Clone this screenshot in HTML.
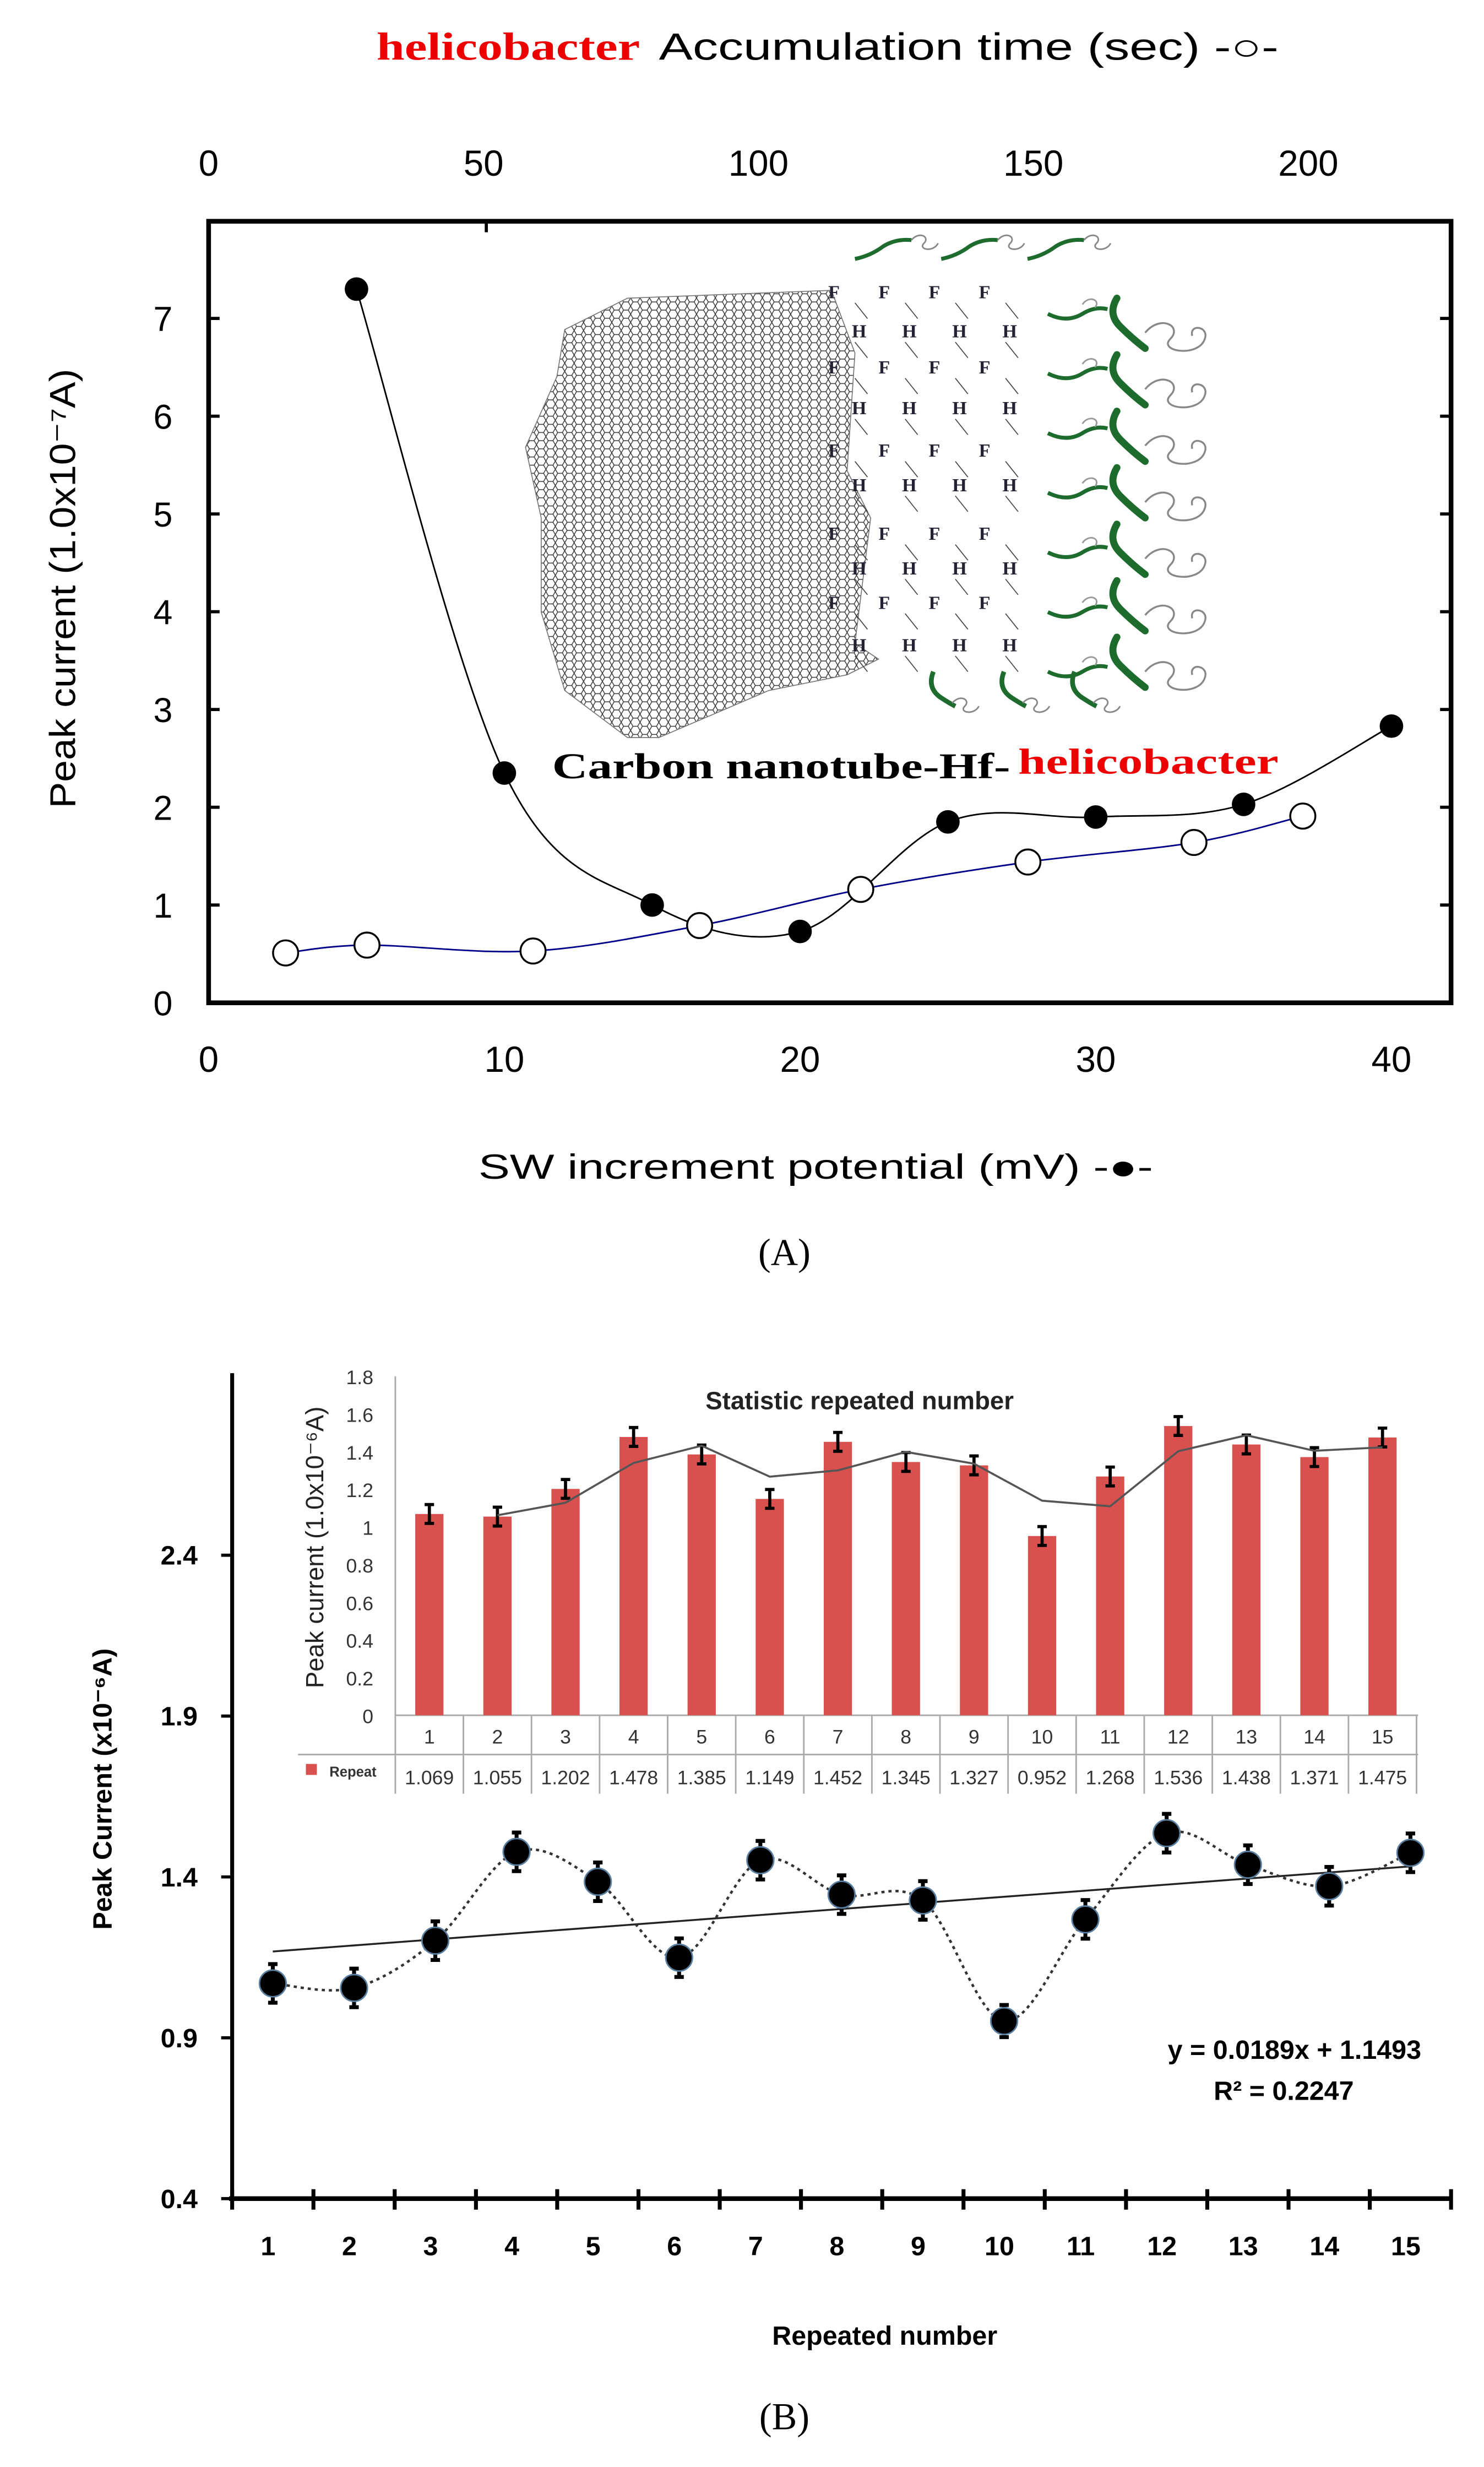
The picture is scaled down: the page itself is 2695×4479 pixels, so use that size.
<!DOCTYPE html>
<html><head><meta charset="utf-8">
<style>
html,body{margin:0;padding:0;background:#fff}
svg{display:block;font-family:"Liberation Sans",sans-serif}
</style></head>
<body>
<svg id="fig" width="2695" height="4479" viewBox="0 0 946 1572" preserveAspectRatio="none" xmlns="http://www.w3.org/2000/svg">
<defs>
<pattern id="hex" width="6" height="5.2" patternUnits="userSpaceOnUse">
<path d="M0,2.6 L1.5,0 L4.5,0 L6,2.6 L4.5,5.2 L1.5,5.2 Z" fill="none" stroke="#333" stroke-width="0.5"/>
</pattern>
<clipPath id="tubeclip"><polygon points="400,190 530,185 545,225 540,300 555,330 545,410 560,420 540,430 490,440 420,470 400,470 360,440 345,390 345,330 335,285 355,240 360,210"/></clipPath>
</defs>
<g id="panelA"></g>
<g id="panelB"></g>
</svg>
<script>
// ---------- Panel A data ----------
const swPotential = [5,10,15,20,25,30,35,40];
const swCurrent = [7.3,2.35,1.0,0.73,1.85,1.9,2.03,2.83];
const accTime = [14,28.8,59,89.3,118.6,149,179.2,199];
const accCurrent = [0.51,0.59,0.53,0.79,1.16,1.44,1.64,1.91];
const yTicksA = [0,1,2,3,4,5,6,7];
const xTicksBottom = [0,10,20,30,40];
const xTicksTop = [0,50,100,150,200];
// ---------- Panel B data ----------
const repeatNums = [1,2,3,4,5,6,7,8,9,10,11,12,13,14,15];
const repeatValues = [1.069,1.055,1.202,1.478,1.385,1.149,1.452,1.345,1.327,0.952,1.268,1.536,1.438,1.371,1.475];
const repeatErr = [0.06,0.06,0.06,0.06,0.06,0.06,0.06,0.06,0.06,0.05,0.06,0.06,0.06,0.06,0.06];
const yTicksB = [0.4,0.9,1.4,1.9,2.4];
const yTicksInset = [0,0.2,0.4,0.6,0.8,1,1.2,1.4,1.6,1.8];
const trendSlope = 0.0189, trendIntercept = 1.1493;

const NS="http://www.w3.org/2000/svg";
const SERIF='font-family:"Liberation Serif",serif';
function mk(parent,tag,attrs,text){const e=document.createElementNS(NS,tag);for(const k in attrs)e.setAttribute(k,attrs[k]);if(text!==undefined)e.textContent=text;parent.appendChild(e);return e;}
function spline(pts){let d="M"+pts[0][0]+","+pts[0][1];for(let i=0;i<pts.length-1;i++){const p0=pts[Math.max(0,i-1)],p1=pts[i],p2=pts[i+1],p3=pts[Math.min(pts.length-1,i+2)];const c1x=p1[0]+(p2[0]-p0[0])/6,c1y=p1[1]+(p2[1]-p0[1])/6,c2x=p2[0]-(p3[0]-p1[0])/6,c2y=p2[1]-(p3[1]-p1[1])/6;d+=` C${c1x},${c1y} ${c2x},${c2y} ${p2[0]},${p2[1]}`;}return d;}

// ===== Panel A =====
const A=document.getElementById('panelA');
const xb=v=>133+v*18.85, xt=s=>133+s*3.505, ya=v=>639-v*62.3;
let t;
t=mk(A,'text',{x:240,y:38,'font-size':25,'font-weight':'bold',fill:'#e00',style:SERIF,textLength:168,lengthAdjust:'spacingAndGlyphs'},'helicobacter');

t=mk(A,'text',{x:420,y:38,'font-size':24,fill:'#000',textLength:395,lengthAdjust:'spacingAndGlyphs'},'Accumulation time (sec) -○-');

// illustration
const ill=mk(A,'g',{});

mk(ill,'rect',{x:330,y:180,width:240,height:300,fill:'url(#hex)','clip-path':'url(#tubeclip)'});
mk(ill,'polygon',{points:"400,190 530,185 545,225 540,300 555,330 545,410 560,420 540,430 490,440 420,470 400,470 360,440 345,390 345,330 335,285 355,240 360,210",fill:'none',stroke:'#777','stroke-width':0.6});
const rowsFH=[[190,'F'],[215,'H'],[238,'F'],[264,'H'],[291,'F'],[313,'H'],[344,'F'],[366,'H'],[388,'F'],[415,'H']];
rowsFH.forEach((r,ri)=>{for(let k=0;k<4;k++){mk(ill,'text',{x:528+ri%2*15+k*32,y:r[0],'font-size':12,'font-weight':'bold',style:SERIF,fill:'#223'},r[1]);mk(ill,'line',{x1:545+k*32,y1:r[0]+3,x2:553+k*32,y2:r[0]+13,stroke:'#444','stroke-width':0.6});}});
[545,600,655].forEach(x=>{mk(ill,'path',{d:`M${x},165 q10,-2 18,-8 q8,-5 18,-4`,fill:'none',stroke:'#1e6b2e','stroke-width':2.5});mk(ill,'path',{d:`M${x+36},153 c5,-6 12,-2 8,2 c-4,4 6,6 9,0`,fill:'none',stroke:'#888','stroke-width':1});});
for(let r=0;r<7;r++){const yy=190+r*36;mk(ill,'path',{d:`M712,${yy} q-6,10 2,18 q8,8 16,14`,fill:'none',stroke:'#1e6b2e','stroke-width':4.5,'stroke-linecap':'round'});mk(ill,'path',{d:`M730,${yy+22} c10,-12 24,-4 16,4 c-8,8 18,12 22,0 c3,-8 -10,-10 -8,-2`,fill:'none',stroke:'#888','stroke-width':1.2});}
for(let r=0;r<7;r++){const yy=200+r*38;mk(ill,'path',{d:`M668,${yy} q12,6 22,0 q8,-5 16,-3`,fill:'none',stroke:'#1e6b2e','stroke-width':2.5});mk(ill,'path',{d:`M690,${yy-6} c4,-6 12,-3 8,2`,fill:'none',stroke:'#999','stroke-width':1});}
[595,640,685].forEach(x=>{mk(ill,'path',{d:`M${x},428 q-4,10 4,16 q6,4 10,6`,fill:'none',stroke:'#1e6b2e','stroke-width':3});mk(ill,'path',{d:`M${x+12},448 c5,-6 12,-2 8,2 c-4,4 6,6 9,0`,fill:'none',stroke:'#888','stroke-width':1});});
t=mk(A,'text',{x:352,y:496,'font-size':23,'font-weight':'bold',style:SERIF,fill:'#000',textLength:292,lengthAdjust:'spacingAndGlyphs'},'Carbon nanotube-Hf-');

t=mk(A,'text',{x:649,y:493,'font-size':23,'font-weight':'bold',style:SERIF,fill:'#e00',textLength:166,lengthAdjust:'spacingAndGlyphs'},'helicobacter');

// frame
const fr=mk(A,'rect',{x:133,y:141,width:792,height:498,fill:'none',stroke:'#000','stroke-width':3});

yTicksA.forEach(v=>{mk(A,'line',{x1:133,y1:ya(v),x2:140,y2:ya(v),stroke:'#000','stroke-width':2});mk(A,'line',{x1:918,y1:ya(v),x2:925,y2:ya(v),stroke:'#000','stroke-width':2});
 const l=mk(A,'text',{x:110,y:ya(v)+8,'font-size':22,'text-anchor':'end'},String(v));});
mk(A,'line',{x1:310,y1:141,x2:310,y2:148,stroke:'#000','stroke-width':2});
xTicksBottom.forEach(v=>{const l=mk(A,'text',{x:xb(v),y:683,'font-size':23,'text-anchor':'middle'},String(v));});
xTicksTop.forEach(v=>{const l=mk(A,'text',{x:xt(v),y:112,'font-size':23,'text-anchor':'middle'},String(v));});
t=mk(A,'text',{x:0,y:0,'font-size':23,'text-anchor':'middle',transform:'translate(48,375) rotate(-90)',textLength:280,lengthAdjust:'spacingAndGlyphs'},'Peak current (1.0x10⁻⁷A)');

t=mk(A,'text',{x:520,y:751,'font-size':22,'text-anchor':'middle',textLength:430,lengthAdjust:'spacingAndGlyphs'},'SW increment potential (mV) -●-');

t=mk(A,'text',{x:500,y:806,'font-size':24,'text-anchor':'middle',style:SERIF},'(A)');

const ptsOpen=accTime.map((s,i)=>[xt(s),ya(accCurrent[i])]);
let ln=mk(A,'path',{d:spline(ptsOpen),fill:'none',stroke:'#00008b','stroke-width':1});

const ptsFill=swPotential.map((v,i)=>[xb(v),ya(swCurrent[i])]);
ln=mk(A,'path',{d:spline(ptsFill),fill:'none',stroke:'#000','stroke-width':1});

ptsOpen.forEach(p=>{const c=mk(A,'circle',{cx:p[0],cy:p[1],r:8,fill:'#fff',stroke:'#000','stroke-width':1.2});});
ptsFill.forEach(p=>{const c=mk(A,'circle',{cx:p[0],cy:p[1],r:7.5,fill:'#000'});});

// ===== Panel B =====
const B=document.getElementById('panelB');
const xB=i=>148+51.8*(i-0.5), yB=v=>1401-(v-0.4)*205;
mk(B,'line',{x1:148,y1:875,x2:148,y2:1403,stroke:'#000','stroke-width':2.5});
mk(B,'line',{x1:146,y1:1401,x2:925,y2:1401,stroke:'#000','stroke-width':3});
yTicksB.forEach(v=>{mk(B,'line',{x1:141,y1:yB(v),x2:148,y2:yB(v),stroke:'#000','stroke-width':2});
 const l=mk(B,'text',{x:126,y:yB(v)+6,'font-size':17,'font-weight':'bold','text-anchor':'end'},v.toFixed(1));});
for(let k=0;k<=15;k++){mk(B,'line',{x1:148+51.8*k,y1:1395,x2:148+51.8*k,y2:1408,stroke:'#000','stroke-width':2.5});}
repeatNums.forEach(n=>{const l=mk(B,'text',{x:xB(n)-3,y:1437,'font-size':17,'font-weight':'bold','text-anchor':'middle'},String(n));});
t=mk(B,'text',{x:0,y:0,'font-size':17,'font-weight':'bold','text-anchor':'middle',transform:'translate(71,1140) rotate(-90)'},'Peak Current (x10⁻⁶A)');

t=mk(B,'text',{x:564,y:1494,'font-size':17,'font-weight':'bold','text-anchor':'middle'},'Repeated number');

t=mk(B,'text',{x:500,y:1548,'font-size':24,'text-anchor':'middle',style:SERIF},'(B)');

ln=mk(B,'line',{x1:xB(1),y1:yB(trendSlope*1+trendIntercept),x2:xB(15),y2:yB(trendSlope*15+trendIntercept),stroke:'#222','stroke-width':1.2});

const ptsB=repeatNums.map((n,i)=>[xB(n),yB(repeatValues[i])]);
ln=mk(B,'path',{d:spline(ptsB),fill:'none',stroke:'#333','stroke-width':1.6,'stroke-dasharray':'2,2.5'});

ptsB.forEach((p,i)=>{const e=repeatErr[i]*205;
 const eb=mk(B,'path',{d:`M${p[0]},${p[1]-e}V${p[1]+e}M${p[0]-3},${p[1]-e}H${p[0]+3}M${p[0]-3},${p[1]+e}H${p[0]+3}`,stroke:'#000','stroke-width':2.5});
 const c=mk(B,'circle',{cx:p[0],cy:p[1],r:8.5,fill:'#000',stroke:'#5a7fa0','stroke-width':1});});
t=mk(B,'text',{x:906,y:1312,'font-size':17,'font-weight':'bold','text-anchor':'end'},'y = 0.0189x + 1.1493');

t=mk(B,'text',{x:863,y:1338,'font-size':17,'font-weight':'bold','text-anchor':'end'},'R² = 0.2247');

const I=mk(B,'g',{});

const xi=i=>252+43.4*(i-0.5), yi=v=>1093-v*120;
mk(I,'line',{x1:252,y1:877,x2:252,y2:1143,stroke:'#aaa','stroke-width':1});
mk(I,'line',{x1:252,y1:1093,x2:904,y2:1093,stroke:'#aaa','stroke-width':1});
mk(I,'line',{x1:190,y1:1118,x2:904,y2:1118,stroke:'#aaa','stroke-width':1});
for(let k=1;k<=15;k++)mk(I,'line',{x1:252+43.4*k,y1:1093,x2:252+43.4*k,y2:1143,stroke:'#aaa','stroke-width':1});
yTicksInset.forEach(v=>{const l=mk(I,'text',{x:238,y:yi(v)+5,'font-size':12.5,'text-anchor':'end',fill:'#333'},String(v));});
repeatNums.forEach((n,i)=>{const v=repeatValues[i];
 const b=mk(I,'rect',{x:xi(n)-9,y:yi(v),width:18,height:v*120,fill:'#d9514e'});
 const e=0.05*120;mk(I,'path',{d:`M${xi(n)},${yi(v)-e}V${yi(v)+e}M${xi(n)-3},${yi(v)-e}H${xi(n)+3}M${xi(n)-3},${yi(v)+e}H${xi(n)+3}`,stroke:'#000','stroke-width':2});
 const l=mk(I,'text',{x:xi(n),y:1111,'font-size':12.5,'text-anchor':'middle',fill:'#333'},String(n));
 const tv=mk(I,'text',{x:xi(n),y:1137,'font-size':12.5,'text-anchor':'middle',fill:'#333'},v.toFixed(3));});
const mavg=repeatNums.slice(1).map((n,i)=>[xi(n),yi((repeatValues[i]+repeatValues[i+1])/2)]);
ln=mk(I,'polyline',{points:mavg.map(p=>p.join(',')).join(' '),fill:'none',stroke:'#555','stroke-width':1.3});

t=mk(I,'text',{x:548,y:898,'font-size':16,'font-weight':'bold','text-anchor':'middle',fill:'#222'},'Statistic repeated number');

t=mk(I,'text',{x:0,y:0,'font-size':16,'text-anchor':'middle',fill:'#222',transform:'translate(206,986) rotate(-90)'},'Peak current (1.0x10⁻⁶A)');

const lg=mk(I,'rect',{x:195,y:1124,width:7,height:7,fill:'#d9514e'});
t=mk(I,'text',{x:210,y:1132,'font-size':9,'font-weight':'bold',fill:'#333'},'Repeat');

</script>
</body></html>
